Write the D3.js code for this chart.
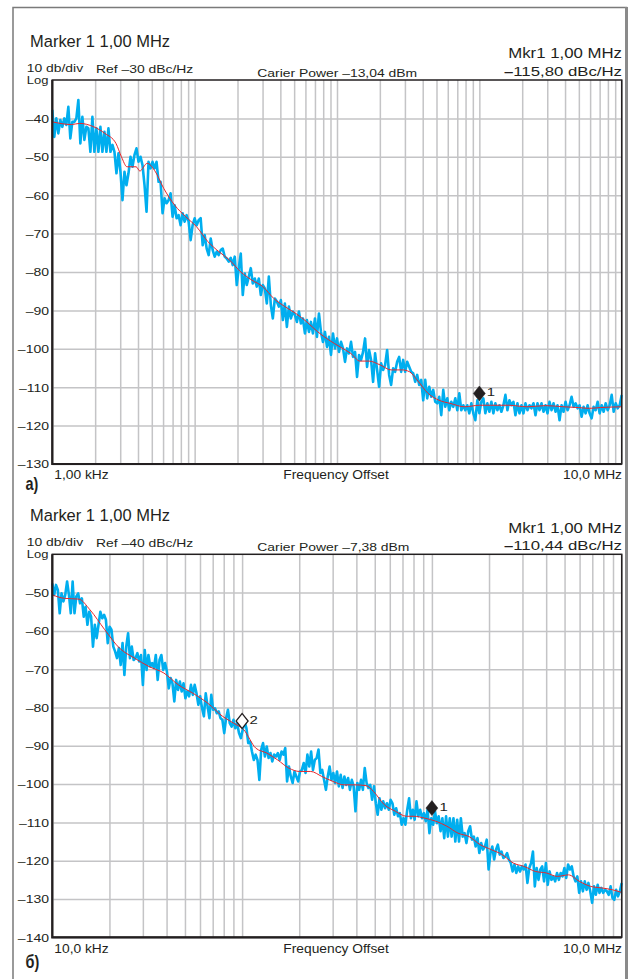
<!DOCTYPE html>
<html>
<head>
<meta charset="utf-8">
<script src="https://cdn.jsdelivr.net/npm/d3@7"></script>
<style>
  body { margin: 0; background: #fff; }
  svg { display: block; }
  text { font-family: "Liberation Sans", Arial, Helvetica, sans-serif; fill: #231f20; }
</style>
</head>
<body>
<svg width="635" height="979"></svg>
<script>
// Sweep a) 1 kHz .. 10 MHz, dBc/Hz, points evenly spaced in log frequency
var traceA = [
  -37.8, -44.8, -40.0, -43.9, -40.4, -42.2, -40.0, -41.7, -37.0, -45.2,
  -40.9, -40.9, -40.0, -35.2, -46.5, -39.6, -45.6, -42.2, -42.6, -48.7,
  -39.6, -48.7, -42.6, -48.7, -42.2, -48.7, -43.5, -48.7, -42.6, -48.7,
  -46.9, -48.7, -54.3, -49.1, -53.9, -61.3, -53.9, -57.4, -54.3, -50.0,
  -52.6, -49.5, -47.8, -51.3, -50.0, -52.2, -57.4, -64.3, -51.3, -53.0,
  -51.3, -53.0, -51.3, -56.5, -56.5, -64.7, -60.8, -62.1, -61.3, -59.5,
  -65.6, -62.6, -66.0, -65.2, -67.8, -64.7, -66.9, -65.2, -66.9, -71.7,
  -67.8, -66.0, -67.8, -66.5, -66.0, -73.0, -70.4, -73.9, -75.6, -71.3,
  -74.3, -76.0, -74.7, -75.6, -74.3, -73.9, -76.0, -76.5, -77.3, -76.3,
  -78.2, -76.0, -83.4, -79.0, -75.2, -86.0, -80.4, -83.4, -81.2, -79.0,
  -83.0, -81.7, -83.8, -81.7, -86.0, -83.4, -84.3, -88.2, -81.2, -88.6,
  -92.1, -86.9, -87.7, -89.0, -87.3, -92.5, -88.2, -94.3, -89.0, -92.1,
  -90.3, -91.2, -93.0, -90.3, -93.4, -92.1, -96.0, -92.5, -95.6, -93.0,
  -96.0, -92.1, -96.9, -90.8, -95.6, -98.2, -95.6, -99.5, -96.9, -101.6,
  -96.0, -99.9, -97.3, -100.8, -98.2, -99.9, -103.4, -99.9, -101.2, -98.2,
  -102.1, -100.8, -107.3, -101.6, -102.9, -100.8, -97.3, -104.7, -100.3, -102.9,
  -108.6, -101.2, -105.5, -109.9, -103.8, -105.5, -104.2, -100.3, -106.8, -109.4,
  -105.1, -106.0, -103.4, -102.1, -106.0, -102.9, -106.0, -103.4, -104.7, -106.0,
  -106.4, -108.6, -106.8, -109.4, -108.1, -113.4, -108.1, -112.9, -109.9, -112.5,
  -110.7, -113.8, -114.2, -112.5, -117.3, -110.7, -115.1, -112.9, -116.0, -113.8,
  -115.1, -112.9, -116.0, -111.6, -116.0, -114.7, -116.0, -114.7, -116.8, -114.2,
  -116.8, -118.6, -113.4, -116.8, -113.8, -112.9, -116.8, -114.2, -116.4, -113.8,
  -116.8, -114.2, -116.0, -114.7, -116.4, -114.7, -112.0, -116.0, -113.4, -114.7,
  -113.8, -117.3, -114.2, -116.8, -114.7, -116.8, -114.2, -116.0, -114.7, -115.5,
  -114.2, -117.3, -114.2, -116.0, -114.2, -116.4, -114.7, -116.8, -113.8, -116.0,
  -114.2, -116.4, -114.7, -118.6, -114.7, -116.4, -113.8, -116.0, -114.7, -112.5,
  -115.1, -114.2, -115.5, -114.7, -117.7, -115.1, -116.8, -114.7, -116.8, -118.1,
  -115.1, -116.0, -113.8, -116.8, -114.7, -116.4, -114.2, -116.0, -114.7, -112.0,
  -116.4, -114.2, -115.5, -114.7, -112.0
];
// averaged (red) curve a), frequency in kHz
var smoothAf = [1, 1.37, 1.55, 1.96, 2.34, 2.80, 3.06, 3.35, 3.88, 4.12,
  4.64, 5.22, 6.06, 7.24, 8.65, 10.3, 12.4, 14.8, 17.6, 21.1,
  25.2, 30.1, 36.0, 43.0, 51.4, 61.4, 73.3, 87.7, 105, 125,
  145, 168, 201, 240, 288, 324, 365, 436, 521, 622,
  789, 1000, 1195, 1607, 2163, 2911, 3917, 4966, 5933, 7096, 10000];
var smoothAv = [-40.9, -41.6, -41.3, -42.2, -43.9, -46.5, -50.0, -52.6, -52.6, -53.7,
  -51.7, -53.5, -58.2, -62.6, -65.6, -68.2, -72.1, -74.7, -76.9, -80.0,
  -82.1, -83.8, -86.9, -89.0, -90.8, -93.0, -95.6, -97.7, -99.5, -101.2,
  -103.2, -103.2, -104.2, -105.5, -105.5, -106.0, -108.1, -111.6, -113.4, -114.2,
  -115.1, -114.7, -114.7, -114.7, -115.1, -114.8, -115.1, -115.3, -115.5, -115.3, -115.1];

// Sweep б) 10 kHz .. 10 MHz
var traceB = [
  -47.6, -50.6, -48.0, -49.3, -55.4, -50.2, -52.3, -50.6, -47.1, -50.6,
  -55.4, -47.1, -55.4, -51.0, -50.2, -52.8, -51.5, -56.3, -53.7, -58.4,
  -55.0, -56.3, -64.1, -58.4, -61.9, -58.4, -55.0, -56.7, -55.8, -57.1,
  -63.2, -58.9, -59.7, -64.1, -65.4, -67.1, -64.5, -68.9, -63.2, -71.5,
  -64.1, -60.6, -67.1, -64.1, -67.6, -67.1, -65.8, -68.0, -66.3, -74.1,
  -65.0, -70.2, -66.3, -69.3, -68.4, -69.7, -66.3, -72.8, -67.6, -66.3,
  -70.2, -68.4, -70.6, -75.0, -72.3, -73.7, -78.4, -72.8, -75.4, -73.2,
  -75.8, -73.7, -77.6, -75.8, -77.1, -74.1, -76.7, -74.1, -76.3, -79.3,
  -77.1, -80.2, -82.3, -76.3, -79.7, -82.8, -76.7, -80.6, -80.2, -81.5,
  -81.0, -82.8, -83.2, -86.7, -82.8, -80.6, -84.1, -85.0, -83.2, -85.4,
  -84.1, -86.7, -88.0, -85.8, -83.7, -85.4, -89.3, -88.9, -91.5, -93.7,
  -92.3, -93.7, -98.9, -91.0, -89.3, -92.8, -90.2, -93.2, -91.9, -94.1,
  -92.3, -92.8, -91.9, -93.7, -91.5, -92.3, -90.6, -99.3, -95.4, -98.0,
  -99.7, -96.7, -98.0, -99.3, -96.7, -96.3, -94.5, -97.1, -92.3, -95.4,
  -91.5, -96.3, -93.7, -93.2, -91.0, -97.1, -96.3, -98.9, -101.5, -98.0,
  -95.4, -98.9, -97.1, -99.7, -96.7, -100.6, -97.6, -101.0, -98.0, -100.2,
  -98.4, -101.5, -98.9, -100.6, -107.1, -99.7, -101.5, -98.9, -101.5, -95.8,
  -99.7, -101.0, -100.2, -104.1, -100.6, -105.0, -108.0, -103.7, -106.7, -104.5,
  -106.3, -105.0, -106.7, -104.1, -105.0, -108.0, -106.3, -108.4, -107.6, -110.6,
  -108.9, -110.6, -106.7, -103.7, -108.9, -106.7, -109.3, -104.5, -108.4, -106.7,
  -108.9, -107.6, -109.7, -106.7, -112.8, -108.9, -110.6, -107.1, -110.2, -108.4,
  -112.3, -108.9, -114.1, -108.4, -113.7, -108.9, -113.7, -108.9, -115.0, -109.3,
  -115.0, -108.9, -113.7, -112.8, -115.4, -112.3, -111.0, -114.5, -113.7, -116.3,
  -114.1, -118.0, -115.4, -117.1, -116.3, -114.5, -122.3, -118.0, -116.3, -119.7,
  -117.1, -115.8, -118.4, -117.6, -119.3, -118.9, -118.0, -119.7, -120.6, -122.8,
  -121.0, -123.2, -121.5, -122.8, -121.5, -122.3, -121.0, -125.8, -121.9, -120.6,
  -117.6, -126.7, -121.9, -125.0, -122.3, -121.5, -125.4, -120.6, -126.3, -122.8,
  -125.0, -124.1, -125.4, -123.2, -125.0, -123.2, -124.1, -121.9, -124.5, -121.0,
  -122.3, -121.5, -124.1, -125.4, -124.1, -128.4, -125.4, -128.0, -125.4, -127.6,
  -125.8, -128.0, -131.0, -126.7, -128.9, -126.3, -128.4, -127.1, -128.4, -127.6,
  -128.0, -128.9, -126.7, -129.7, -130.2, -127.6, -129.3, -128.0, -125.8
];
var smoothBf = [10, 11.6, 13.8, 15.8, 18.9, 22.6, 27.1, 32.3, 38.7, 46.2,
  55.2, 66.0, 78.9, 90.2, 102, 118, 135, 154, 176, 201,
  230, 263, 301, 344, 394, 450, 492, 562, 643, 735,
  804, 918, 1049, 1200, 1372, 1569, 1794, 2051, 2345, 2681,
  3065, 3505, 4007, 4581, 5238, 5988, 6846, 7827, 8949, 10000];
var smoothBv = [-50.6, -51.5, -51.7, -54.5, -59.7, -64.5, -67.1, -69.3, -71.0, -74.1,
  -76.3, -78.9, -82.3, -84.1, -85.8, -90.6, -91.9, -93.7, -95.8, -96.7,
  -96.7, -98.0, -99.3, -100.2, -100.2, -100.4, -101.9, -105.4, -107.1, -108.4,
  -108.4, -108.9, -109.7, -111.0, -112.8, -113.7, -115.8, -117.1, -118.4, -120.6,
  -121.5, -122.8, -123.2, -124.1, -123.7, -125.4, -126.7, -127.1, -127.6, -128.3];

var ticksA = [-40, -50, -60, -70, -80, -90, -100, -110, -120, -130];
var ticksB = [-50, -60, -70, -80, -90, -100, -110, -120, -130, -140];

// markers: frequency (kHz), level (dBc/Hz), filled?
var markersA = [{name: "1", f: 1000, v: -115.8, filled: true}];
var markersB = [{name: "1", f: 1000, v: -110.44, filled: true},
                {name: "2", f: 100, v: -87.7, filled: false}];

var svg = d3.select("svg");

// outer frame of the page
svg.append("path")
  .attr("d", "M13,979V7.5H626.5V979")
  .attr("fill", "none").attr("stroke", "#7a7a7a").attr("stroke-width", 1.5);
svg.append("line").attr("x1", 626.5).attr("x2", 626.5).attr("y1", 7).attr("y2", 979)
  .attr("stroke", "#8a8a8a").attr("stroke-width", 3);

function txt(g, x, y, s, size, anchor, sx, weight) {
  return g.append("text")
    .attr("transform", "translate(" + x + "," + y + ") scale(" + sx + ",1)")
    .attr("text-anchor", anchor || "start")
    .style("font-size", size + "px")
    .style("font-weight", weight || "normal")
    .text(s);
}

function panel(o) {
  var g = svg.append("g");
  var left = 52.3, right = 621.7;
  var x = d3.scaleLog().domain([o.fmin, o.fmax]).range([left, right]);
  var y = d3.scaleLinear().domain([o.ymin, o.ymin + 100]).range([o.bottom, o.top]);

  // vertical grid (1..9 per decade)
  g.append("g")
    .attr("transform", "translate(0," + o.bottom + ")")
    .call(d3.axisBottom(x).tickValues(x.ticks()).tickSize(-(o.bottom - o.top)).tickFormat(""))
    .call(function(a) { a.select(".domain").remove(); })
    .selectAll("line").attr("stroke", "#c4c4c6").attr("stroke-width", 1.5);

  // horizontal grid + level labels
  var ya = g.append("g")
    .attr("transform", "translate(" + left + ",0)")
    .call(d3.axisLeft(y).tickValues(o.ticks).tickSize(-(right - left)).tickPadding(2.5)
      .tickFormat(function(d) { return "\u2013" + Math.abs(d); }));
  ya.select(".domain").remove();
  ya.selectAll("line").attr("stroke", "#c4c4c6").attr("stroke-width", 1.5);
  ya.selectAll("text")
    .attr("transform", "scale(1.3,1)")
    .attr("dy", "0.36em")
    .style("font-size", "10.8px")
    .style("fill", "#231f20")
    .style("font-family", "'Liberation Sans', Arial, sans-serif");

  // traces
  var pts = o.trace.map(function(v, i) {
    return {f: o.fmin * Math.pow(o.fmax / o.fmin, i / (o.trace.length - 1)), v: v};
  });
  var line = d3.line().x(function(d) { return x(d.f); }).y(function(d) { return y(d.v); });
  g.append("path").datum(pts)
    .attr("d", line)
    .attr("fill", "none").attr("stroke", "#00aeef").attr("stroke-width", 2.6)
    .attr("stroke-linejoin", "round");

  var sm = o.smoothF.map(function(f, i) { return {f: f * 1e3, v: o.smoothV[i]}; });
  g.append("path").datum(sm)
    .attr("d", line.curve(d3.curveMonotoneX))
    .attr("fill", "none").attr("stroke", "#e8262b").attr("stroke-width", 1);

  // plot frame
  g.append("rect")
    .attr("x", left).attr("y", o.top).attr("width", right - left).attr("height", o.bottom - o.top)
    .attr("fill", "none").attr("stroke", "#231f20").attr("stroke-width", 1.5);
  g.append("path")
    .attr("d", "M" + left + "," + o.top + "V" + o.bottom + "H" + right)
    .attr("fill", "none").attr("stroke", "#231f20").attr("stroke-width", 2.2);

  // markers
  o.markers.forEach(function(m) {
    var mx = x(m.f * 1e3), my = y(m.v) - 16;
    g.append("path")
      .attr("d", d3.symbol(d3.symbolSquare, 112)())
      .attr("transform", "translate(" + mx + "," + my + ") scale(0.8,1) rotate(45)")
      .attr("fill", m.filled ? "#231f20" : "#fff")
      .attr("stroke", "#231f20").attr("stroke-width", m.filled ? 0.5 : 1.5);
    txt(g, mx + 7.5, my + 3, m.name, 11.5, "start", 1.3);
  });

  // header texts
  txt(g, 30, o.top - 33, "Marker 1 1,00 MHz", 17, "start", 0.97);
  txt(g, 26.7, o.top - 8, "10 db/div", 10.7, "start", 1.3);
  txt(g, 96, o.top - 7, "Ref \u2013" + o.ref + " dBc/Hz", 10.7, "start", 1.3);
  txt(g, 26.7, o.top + 3.5, "Log", 10, "start", 1.3);
  txt(g, 257.3, o.top - 3.5, "Carier Power \u2013" + o.power + " dBm", 10.7, "start", 1.3);
  txt(g, 622, o.top - 21.7, "Mkr1 1,00 MHz", 15, "end", 1.12);
  var mv = txt(g, 622, o.top - 4, "", 13, "end", 1.29);
  mv.append("tspan").style("font-weight", "bold").text("\u2013");
  mv.append("tspan").text(o.mkrValue + " dBc/Hz");

  // frequency labels
  txt(g, 54.3, o.bottom + 15.3, o.startLabel, 12, "start", 1.15);
  txt(g, 283.3, o.bottom + 15.3, "Frequency Offset", 12, "start", 1.15);
  txt(g, 622, o.bottom + 15.3, "10,0 MHz", 12, "end", 1.15);

  txt(g, 25.5, o.captionY, o.caption, 18.5, "start", 0.78, "bold");
}

panel({top: 80, bottom: 464, fmin: 1e3, fmax: 1e7, ymin: -130,
  trace: traceA, smoothF: smoothAf, smoothV: smoothAv, ticks: ticksA, markers: markersA,
  ref: "30", power: "13,04", mkrValue: "115,80", startLabel: "1,00 kHz",
  caption: "a)", captionY: 490});

panel({top: 554.3, bottom: 937.3, fmin: 1e4, fmax: 1e7, ymin: -140,
  trace: traceB, smoothF: smoothBf, smoothV: smoothBv, ticks: ticksB, markers: markersB,
  ref: "40", power: "7,38", mkrValue: "110,44", startLabel: "10,0 kHz",
  caption: "\u0431)", captionY: 968});
</script>
</body>
</html>
